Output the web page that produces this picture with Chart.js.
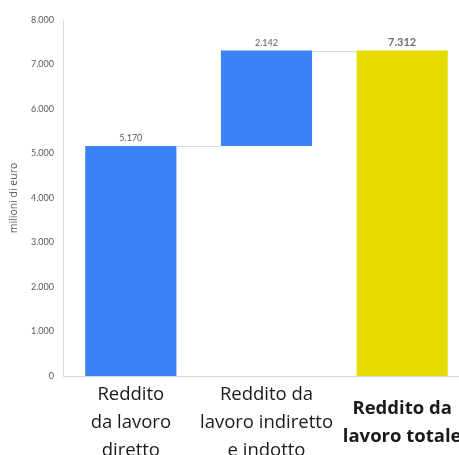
<!DOCTYPE html>
<html>
<head>
<meta charset="utf-8">
<script src="https://cdn.jsdelivr.net/npm/chart.js@4/dist/chart.umd.min.js"></script>
<style>
  html, body { margin: 0; padding: 0; background: #fff; overflow: hidden; }
  #wrap { width: 470px; height: 470px; }
</style>
</head>
<body>
<div id="wrap"><canvas id="myChart" width="470" height="470"></canvas></div>
<script>
// dati (milioni di euro)
const categories = [
  ['Reddito', 'da lavoro', 'diretto'],
  ['Reddito da', 'lavoro indiretto', 'e indotto'],
  ['Reddito da', 'lavoro totale']
];
const values = [5170, 2142, 7312];
const isTotal = [false, false, true];
const barColors = ['#3a83f7', '#3a83f7', '#e5db00'];
const yMax = 8000;
const yStep = 1000;

function fmt(n) {
  return String(Math.round(n)).replace(/\B(?=(\d{3})+(?!\d))/g, '.');
}

// barre flottanti (cascata)
let running = 0;
const floating = values.map((v, i) => {
  if (isTotal[i]) { running = v; return [0, v]; }
  const r = [running, running + v];
  running += v;
  return r;
});

// linee di collegamento tra le barre
const connectors = {
  id: 'connectors',
  afterDatasetsDraw(chart) {
    const ctx = chart.ctx;
    const y = chart.scales.y;
    const bars = chart.getDatasetMeta(0).data;
    ctx.save();
    ctx.strokeStyle = '#d9d9d9';
    ctx.lineWidth = 1;
    for (let i = 0; i < bars.length - 1; i++) {
      const py = Math.round(y.getPixelForValue(floating[i][1])) + 0.5;
      ctx.beginPath();
      ctx.moveTo(bars[i].x + bars[i].width / 2, py);
      ctx.lineTo(bars[i + 1].x - bars[i + 1].width / 2, py);
      ctx.stroke();
    }
    ctx.restore();
  }
};

// etichette sopra le barre
const valueLabels = {
  id: 'valueLabels',
  afterDatasetsDraw(chart) {
    const ctx = chart.ctx;
    const bars = chart.getDatasetMeta(0).data;
    ctx.save();
    ctx.textAlign = 'center';
    ctx.textBaseline = 'bottom';
    bars.forEach((b, i) => {
      ctx.fillStyle = isTotal[i] ? '#6f6f6f' : '#595959';
      ctx.font = isTotal[i] ? 'bold 11px Lato' : '9px Lato';
      ctx.fillText(fmt(values[i]), b.x, b.y - 3);
    });
    ctx.restore();
  }
};

const myChart = new Chart(document.getElementById('myChart'), {
  type: 'bar',
  data: {
    labels: categories,
    datasets: [{
      data: floating,
      backgroundColor: barColors,
      borderWidth: 0,
      barPercentage: 0.672,
      categoryPercentage: 1
    }]
  },
  options: {
    responsive: false,
    animation: false,
    layout: { padding: { top: 20, left: 0, right: 0, bottom: 0 } },
    plugins: {
      legend: { display: false },
      tooltip: { enabled: false }
    },
    scales: {
      x: {
        afterFit(s) {
          s.height = 94;
          s.paddingLeft = 0;
          s.paddingRight = 0;
        },
        grid: { display: false, drawTicks: false },
        border: { color: '#d9d9d9' },
        ticks: {
          color: '#1a1a1a',
          padding: 19,
          crossAlign: 'center',
          autoSkip: false,
          maxRotation: 0,
          font: (c) => ({
            family: 'Open Sans',
            size: 18.5,
            lineHeight: '28px',
            weight: isTotal[c.index] ? 'bold' : 'normal'
          })
        }
      },
      y: {
        min: 0,
        max: yMax,
        afterFit(s) { s.width = 63; },
        grid: { display: false, drawTicks: false },
        border: { color: '#d9d9d9' },
        ticks: {
          stepSize: yStep,
          padding: 9,
          color: '#595959',
          font: { family: 'Lato', size: 9 },
          callback: (v) => fmt(v)
        },
        title: {
          display: true,
          text: 'milioni di euro',
          color: '#595959',
          font: { family: 'Open Sans', size: 10.5 },
          padding: { top: 8, bottom: 0 }
        }
      }
    }
  },
  plugins: [connectors, valueLabels]
});
</script>
</body>
</html>
